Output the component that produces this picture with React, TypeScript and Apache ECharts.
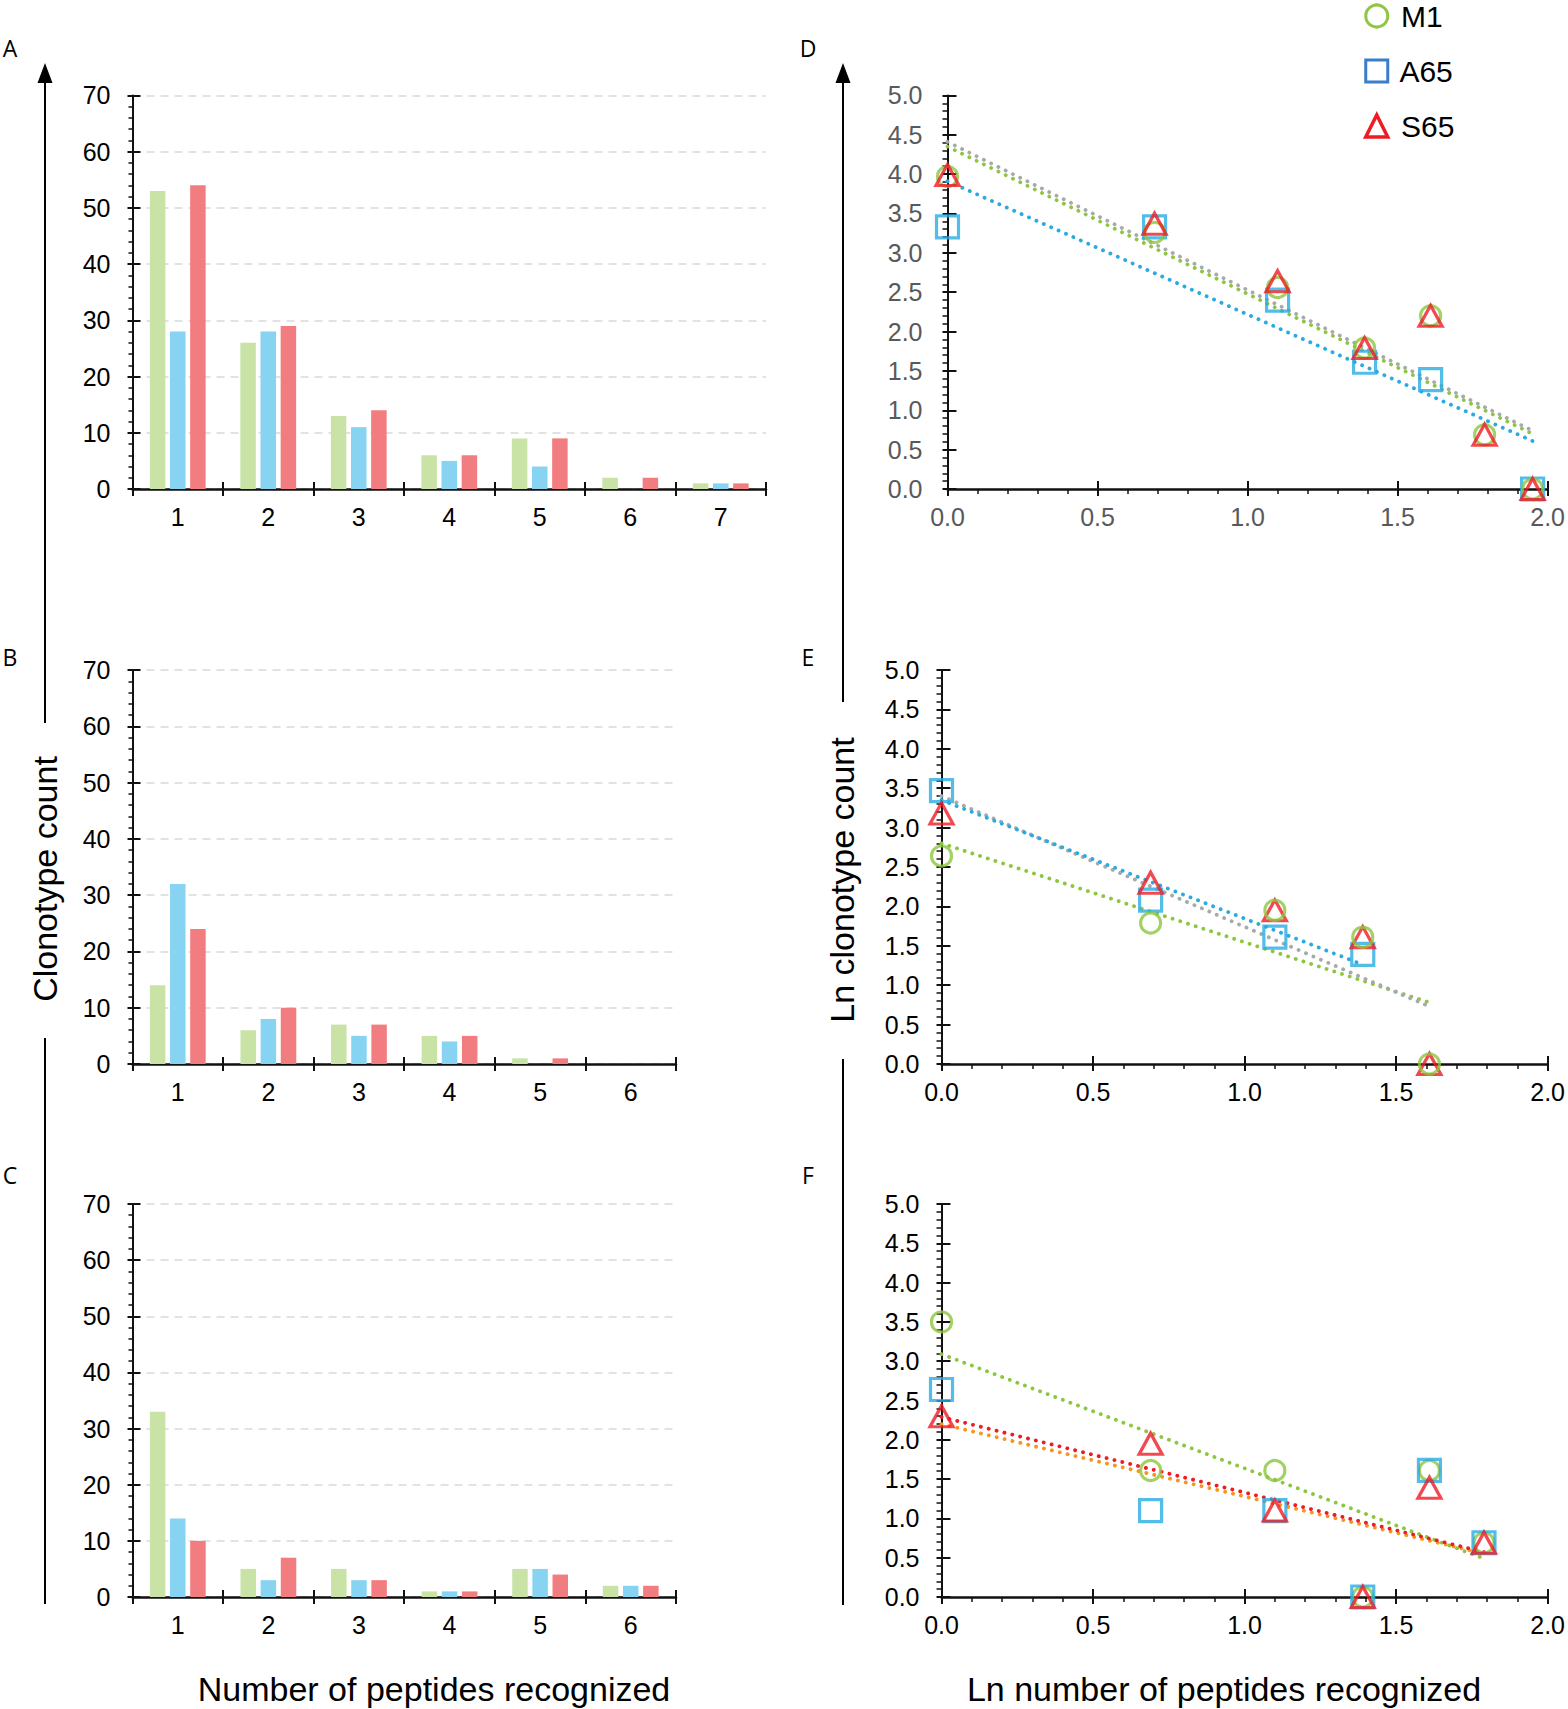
import React, { useEffect, useRef } from "react";
import * as echarts from "echarts";

// ---------- data ----------
const catsA = ["1", "2", "3", "4", "5", "6", "7"];
const catsBC = ["1", "2", "3", "4", "5", "6"];

const barA_M1 = [53, 26, 13, 6, 9, 2, 1];
const barA_A65 = [28, 28, 11, 5, 4, 0, 1];
const barA_S65 = [54, 29, 14, 6, 9, 2, 1];

const barB_M1 = [14, 6, 7, 5, 1, 0];
const barB_A65 = [32, 8, 5, 4, 0, 0];
const barB_S65 = [24, 10, 7, 5, 1, 0];

const barC_M1 = [33, 5, 5, 1, 5, 2];
const barC_A65 = [14, 3, 3, 1, 5, 2];
const barC_S65 = [10, 7, 3, 1, 4, 2];

const yTicksBar = [0, 10, 20, 30, 40, 50, 60, 70];
const xTicksLn = ["0.0", "0.5", "1.0", "1.5", "2.0"];
const yTicksLn = ["0.0", "0.5", "1.0", "1.5", "2.0", "2.5", "3.0", "3.5", "4.0", "4.5", "5.0"];

const lnX_D = [0, 0.69, 1.1, 1.39, 1.61, 1.79, 1.95];
const lnD_M1 = [3.97, 3.26, 2.56, 1.79, 2.2, 0.69, 0];
const lnD_A65 = [3.33, 3.33, 2.4, 1.61, 1.39, null, 0];
const lnD_S65 = [3.99, 3.37, 2.64, 1.79, 2.2, 0.69, 0];

const lnX_E = [0, 0.69, 1.1, 1.39, 1.61];
const lnE_M1 = [2.64, 1.79, 1.95, 1.61, 0];
const lnE_A65 = [3.47, 2.08, 1.61, 1.39, null];
const lnE_S65 = [3.18, 2.3, 1.95, 1.61, 0];

const lnX_F = [0, 0.69, 1.1, 1.39, 1.61, 1.79];
const lnF_M1 = [3.5, 1.61, 1.61, 0, 1.61, 0.69];
const lnF_A65 = [2.64, 1.1, 1.1, 0, 1.61, 0.69];
const lnF_S65 = [2.3, 1.95, 1.1, 0, 1.39, 0.69];

// trend line end points
const trendD_M1 = [[0, 4.35], [1.95, 0.7]];
const trendD_A65 = [[0, 3.91], [1.95, 0.61]];
const trendD_S65 = [[0, 4.41], [1.95, 0.74]];
const trendE_M1 = [[0, 2.8], [1.61, 0.78]];
const trendE_A65 = [[0, 3.35], [1.39, 1.26]];
const trendE_S65 = [[0, 3.4], [1.61, 0.73]];
const trendF_M1 = [[0, 3.09], [1.79, 0.49]];
const trendF_A65 = [[0, 2.2], [1.79, 0.55]];
const trendF_S65 = [[0, 2.29], [1.79, 0.57]];

// ---------- styles ----------
const FONT = "'Liberation Sans', Arial, Helvetica, sans-serif";
const TICK_FONT = "'Liberation Sans Narrow', 'Arial Narrow', 'Liberation Sans', Arial, sans-serif";
const PANEL_FONT = "'Open Sans', 'Liberation Sans', sans-serif";
const GREEN = "#8dc63f";
const BLUE = "#29abe2";
const LEGEND_BLUE = "#3b7dc8";
const RED = "#ed1c24";
const GRAY = "#a7a9ac";
const ORANGE = "#f7941d";
const BAR_GREEN = "#c9e3a6";
const BAR_BLUE = "#87d3f2";
const BAR_RED = "#f27d80";
const AXIS = "#111";
const TICK_FS = 25;

const grids = [
  { left: 132.5, top: 95.4, width: 633.5, height: 393.6 }, // A
  { left: 132.5, top: 670, width: 543.5, height: 394 }, // B
  { left: 132.5, top: 1204, width: 543.5, height: 393 }, // C
  { left: 947.5, top: 95.4, width: 602.5, height: 393.6 }, // D
  { left: 941.5, top: 670, width: 608.5, height: 394 }, // E
  { left: 941.5, top: 1204, width: 608.5, height: 393 }, // F
];

function catX(g: number, cats: string[]) {
  return [
    {
      type: "category", gridIndex: g, data: cats, position: "bottom",
      axisLine: { show: true, lineStyle: { color: AXIS, width: 2.5 } },
      axisTick: { show: true, length: 7, lineStyle: { color: AXIS, width: 2 } },
      axisLabel: { fontSize: TICK_FS, color: "#000", margin: 15, fontFamily: TICK_FONT },
      splitLine: { show: false },
    },
    {
      type: "category", gridIndex: g, data: cats, position: "bottom",
      axisLine: { show: false },
      axisTick: { show: true, inside: true, length: 7, lineStyle: { color: AXIS, width: 2 } },
      axisLabel: { show: false },
      splitLine: { show: false },
    },
  ];
}

function barY(g: number) {
  return [
    {
      type: "value", gridIndex: g, position: "left",
      min: yTicksBar[0], max: yTicksBar[yTicksBar.length - 1], interval: 10,
      axisLine: { show: true, lineStyle: { color: AXIS, width: 2 } },
      axisTick: { show: true, length: 5, lineStyle: { color: AXIS, width: 2 } },
      minorTick: { show: true, splitNumber: 5, length: 4, lineStyle: { color: AXIS, width: 1.5 } },
      axisLabel: { fontSize: TICK_FS, color: "#000", margin: 22, fontFamily: TICK_FONT },
      splitLine: { show: true, lineStyle: { color: "#d9d9d9", width: 1.5, type: [8, 6] } },
    },
    {
      type: "value", gridIndex: g, position: "left", min: 0, max: 70, interval: 10,
      axisLine: { show: false },
      axisTick: { show: true, inside: true, length: 8, lineStyle: { color: AXIS, width: 2 } },
      axisLabel: { show: false },
      splitLine: { show: false },
    },
  ];
}

function lnXAxis(g: number, labelColor: string) {
  return [
    {
      type: "value", gridIndex: g, position: "bottom", min: 0, max: 2, interval: 0.5,
      axisLine: { show: true, onZero: false, lineStyle: { color: AXIS, width: 2.5 } },
      axisTick: { show: true, length: 7, lineStyle: { color: AXIS, width: 2 } },
      minorTick: { show: true, splitNumber: 5, length: 5, lineStyle: { color: AXIS, width: 1.5 } },
      axisLabel: {
        fontSize: TICK_FS, color: labelColor, margin: 15, fontFamily: TICK_FONT,
        formatter: (v: number) => xTicksLn[Math.round(v / 0.5)] ?? v.toFixed(1),
      },
      splitLine: { show: false },
    },
    {
      type: "value", gridIndex: g, position: "bottom", min: 0, max: 2, interval: 0.5,
      axisLine: { show: false, onZero: false },
      axisTick: { show: true, inside: true, length: 8, lineStyle: { color: AXIS, width: 2 } },
      axisLabel: { show: false },
      splitLine: { show: false },
    },
  ];
}

function lnYAxis(g: number, labelColor: string, margin: number) {
  return [
    {
      type: "value", gridIndex: g, position: "left", min: 0, max: 5, interval: 0.5,
      axisLine: { show: true, onZero: false, lineStyle: { color: AXIS, width: 2 } },
      axisTick: { show: true, length: 5, lineStyle: { color: AXIS, width: 2 } },
      minorTick: { show: true, splitNumber: 5, length: 5, lineStyle: { color: AXIS, width: 1.5 } },
      axisLabel: {
        fontSize: TICK_FS, color: labelColor, margin, fontFamily: TICK_FONT,
        formatter: (v: number) => yTicksLn[Math.round(v / 0.5)] ?? v.toFixed(1),
      },
      splitLine: { show: false },
    },
    {
      type: "value", gridIndex: g, position: "left", min: 0, max: 5, interval: 0.5,
      axisLine: { show: false, onZero: false },
      axisTick: { show: true, inside: true, length: 9, lineStyle: { color: AXIS, width: 2 } },
      axisLabel: { show: false },
      splitLine: { show: false },
    },
  ];
}

function bars(g: number, m1: number[], a65: number[], s65: number[]) {
  const base = { type: "bar", xAxisIndex: 2 * g, yAxisIndex: 2 * g, barWidth: 15.5, barGap: "30%" };
  return [
    { ...base, name: "M1", data: m1, itemStyle: { color: BAR_GREEN } },
    { ...base, name: "A65", data: a65, itemStyle: { color: BAR_BLUE } },
    { ...base, name: "S65", data: s65, itemStyle: { color: BAR_RED } },
  ];
}

const SYMBOLS: Record<string, any> = {
  M1: { symbol: "circle", symbolSize: 20, color: GREEN },
  A65: { symbol: "rect", symbolSize: 22, color: BLUE },
  S65: { symbol: "triangle", symbolSize: [23, 21], color: RED },
};

function scatter(g: number, name: string, xs: number[], ys: (number | null)[]) {
  const s = SYMBOLS[name];
  return {
    type: "scatter", name, xAxisIndex: 2 * g, yAxisIndex: 2 * g,
    symbol: s.symbol, symbolSize: s.symbolSize, z: 3,
    itemStyle: { color: "rgba(255,255,255,0)", borderColor: s.color, borderWidth: 3.2 },
    data: xs.map((x, i) => [x, ys[i]]).filter((p) => p[1] !== null),
  };
}

function trend(g: number, pts: number[][], color: string) {
  return {
    type: "line", xAxisIndex: 2 * g, yAxisIndex: 2 * g, data: pts, symbol: "none", silent: true, z: 2,
    lineStyle: { color, width: 3.8, type: [0.1, 8], cap: "round" },
  };
}

function buildOption() {
  const xAxis = [
    ...catX(0, catsA), ...catX(1, catsBC), ...catX(2, catsBC),
    ...lnXAxis(3, "#58595b"), ...lnXAxis(4, "#000"), ...lnXAxis(5, "#000"),
  ];
  const yAxis = [
    ...barY(0), ...barY(1), ...barY(2),
    ...lnYAxis(3, "#58595b", 25), ...lnYAxis(4, "#000", 22), ...lnYAxis(5, "#000", 22),
  ];
  const series = [
    ...bars(0, barA_M1, barA_A65, barA_S65),
    ...bars(1, barB_M1, barB_A65, barB_S65),
    ...bars(2, barC_M1, barC_A65, barC_S65),
    trend(3, trendD_M1, GREEN), trend(3, trendD_A65, BLUE), trend(3, trendD_S65, GRAY),
    scatter(3, "A65", lnX_D, lnD_A65), scatter(3, "M1", lnX_D, lnD_M1), scatter(3, "S65", lnX_D, lnD_S65),
    trend(4, trendE_M1, GREEN), trend(4, trendE_S65, GRAY), trend(4, trendE_A65, BLUE),
    scatter(4, "A65", lnX_E, lnE_A65), scatter(4, "S65", lnX_E, lnE_S65), scatter(4, "M1", lnX_E, lnE_M1),
    trend(5, trendF_M1, GREEN), trend(5, trendF_A65, ORANGE), trend(5, trendF_S65, RED),
    scatter(5, "M1", lnX_F, lnF_M1), scatter(5, "A65", lnX_F, lnF_A65), scatter(5, "S65", lnX_F, lnF_S65),
  ];

  const panelLetters = [
    ["A", 10, 48], ["B", 10, 657], ["C", 10, 1175],
    ["D", 808, 48], ["E", 808, 657], ["F", 808, 1175],
  ];

  const graphic: any[] = [
    // left arrow axis
    { type: "line", shape: { x1: 45, y1: 78, x2: 45, y2: 723 }, style: { stroke: "#000", lineWidth: 2 } },
    { type: "polygon", shape: { points: [[45, 63], [37.5, 83], [52.5, 83]] }, style: { fill: "#000" } },
    { type: "line", shape: { x1: 45, y1: 1038, x2: 45, y2: 1604 }, style: { stroke: "#000", lineWidth: 2 } },
    {
      type: "text", x: 45, y: 879, rotation: Math.PI / 2,
      style: { text: "Clonotype count", fontSize: 34, fontFamily: FONT, fill: "#000", align: "center", verticalAlign: "middle" },
    },
    // right arrow axis
    { type: "line", shape: { x1: 843, y1: 78, x2: 843, y2: 702 }, style: { stroke: "#000", lineWidth: 2 } },
    { type: "polygon", shape: { points: [[843, 63], [835.5, 83], [850.5, 83]] }, style: { fill: "#000" } },
    { type: "line", shape: { x1: 843, y1: 1059, x2: 843, y2: 1605 }, style: { stroke: "#000", lineWidth: 2 } },
    {
      type: "text", x: 842, y: 880, rotation: Math.PI / 2,
      style: { text: "Ln clonotype count", fontSize: 34, fontFamily: FONT, fill: "#000", align: "center", verticalAlign: "middle" },
    },
    {
      type: "text", x: 434, y: 1689,
      style: { text: "Number of peptides recognized", fontSize: 34, fontFamily: FONT, fill: "#000", align: "center", verticalAlign: "middle" },
    },
    {
      type: "text", x: 1224, y: 1689,
      style: { text: "Ln number of peptides recognized", fontSize: 34, fontFamily: FONT, fill: "#000", align: "center", verticalAlign: "middle" },
    },
    ...panelLetters.map(([t, x, y]) => ({
      type: "text", x, y,
      style: { text: t, fontSize: 23, fontFamily: PANEL_FONT, fill: "#000", align: "center", verticalAlign: "middle" },
    })),
  ];

  return {
    animation: false,
    backgroundColor: "#fff",
    grid: grids.map((g) => ({ ...g, containLabel: false })),
    xAxis,
    yAxis,
    series,
    legend: {
      orient: "vertical", left: 1359, top: -4, itemWidth: 22, itemHeight: 22, itemGap: 25,
      selectedMode: false,
      formatter: " {name}",
      textStyle: { fontSize: 30, color: "#000", fontFamily: FONT },
      data: [
        { name: "M1", icon: "circle", itemStyle: { color: "#fff", borderColor: GREEN, borderWidth: 3 } },
        { name: "A65", icon: "rect", itemStyle: { color: "#fff", borderColor: LEGEND_BLUE, borderWidth: 3 } },
        { name: "S65", icon: "triangle", itemStyle: { color: "#fff", borderColor: RED, borderWidth: 3.5 } },
      ],
    },
    graphic,
  };
}

export default function App() {
  const ref = useRef<HTMLDivElement>(null);
  useEffect(() => {
    if (!ref.current) return;
    const chart = echarts.init(ref.current, undefined, { renderer: "svg" });
    chart.setOption(buildOption() as any);
    return () => chart.dispose();
  }, []);
  return (
    <div
      ref={ref}
      style={{ position: "absolute", left: 0, top: 0, width: 1568, height: 1709, background: "#fff" }}
    />
  );
}
